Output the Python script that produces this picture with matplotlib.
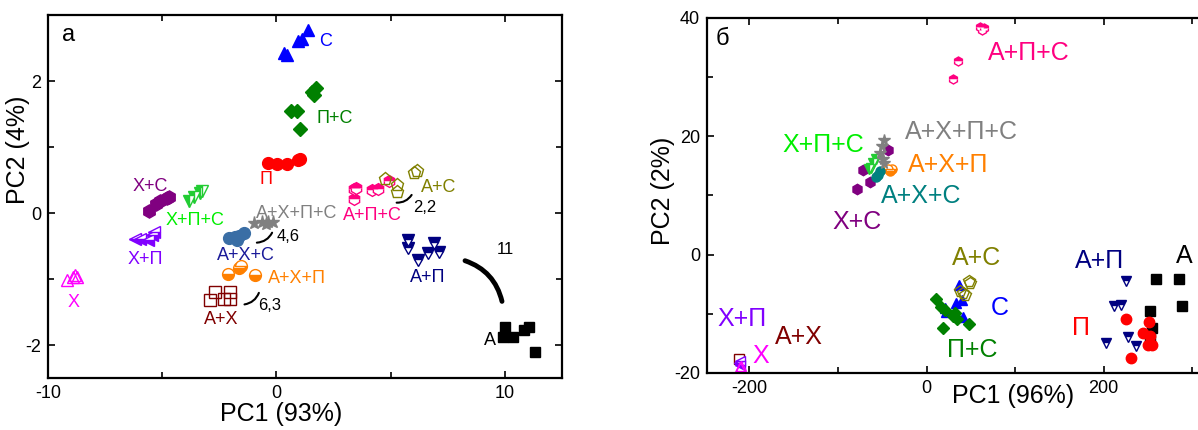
import matplotlib
matplotlib.use("Agg")
import matplotlib.pyplot as plt
from matplotlib.patches import FancyArrowPatch
from matplotlib.ticker import MultipleLocator, FixedLocator

plt.rcParams['font.family'] = ['Liberation Sans', 'DejaVu Sans']
plt.rcParams['axes.unicode_minus'] = False

# --- panel a: PC1 / PC2 scores ---
a_C_x = [0.35, 0.45, 0.95, 1.10, 1.40]
a_C_y = [2.42, 2.39, 2.60, 2.63, 2.77]
a_PC_x = [1.72, 1.55, 1.64, 0.88, 0.63, 1.05]
a_PC_y = [1.90, 1.84, 1.79, 1.55, 1.55, 1.28]
a_P_x = [-0.39, 0.03, 0.46, 0.96, 1.05]
a_P_y = [0.76, 0.75, 0.75, 0.80, 0.82]
a_XC_x = [-5.57, -5.29, -5.12, -4.78, -4.70]
a_XC_y = [0.03, 0.13, 0.18, 0.23, 0.25]
a_XPC_x = [-3.85, -3.60, -3.35, -3.26]
a_XPC_y = [0.18, 0.25, 0.30, 0.33]
a_XP_x = [-6.20, -5.96, -5.62, -5.46, -5.37]
a_XP_y = [-0.40, -0.40, -0.41, -0.33, -0.29]
a_X_x = [-9.17, -8.92, -8.83, -8.75]
a_X_y = [-1.02, -0.97, -0.94, -0.97]
a_AXPC_x = [-0.98, -0.64, -0.39, -0.14, -0.47]
a_AXPC_y = [-0.15, -0.14, -0.13, -0.13, -0.16]
a_AXC_x = [-2.08, -1.82, -1.66, -1.40, -1.74]
a_AXC_y = [-0.38, -0.37, -0.35, -0.31, -0.41]
a_AXP_x = [-2.13, -1.66, -1.57, -0.95]
a_AXP_y = [-0.93, -0.84, -0.81, -0.94]
a_AX_x = [-2.92, -2.67, -2.30, -2.04, -2.03]
a_AX_y = [-1.32, -1.19, -1.31, -1.19, -1.30]
a_APC_x = [3.41, 3.50, 3.41, 4.17, 4.43, 4.93]
a_APC_y = [0.37, 0.38, 0.21, 0.35, 0.36, 0.48]
a_AC_x = [4.76, 5.27, 5.27, 6.03, 6.15]
a_AC_y = [0.51, 0.42, 0.32, 0.61, 0.64]
a_AP_x = [5.74, 5.77, 6.20, 6.62, 6.88, 7.13]
a_AP_y = [-0.41, -0.53, -0.71, -0.61, -0.45, -0.59]
a_A_x = [10.00, 9.92, 10.34, 10.84, 11.05, 11.30]
a_A_y = [-1.73, -1.88, -1.88, -1.78, -1.73, -2.11]

# --- panel b ---
b_APC_x = [60.9, 65.2, 63.0, 35.7, 29.6]
b_APC_y = [38.5, 38.3, 38.0, 32.7, 29.7]
b_AXPC_x = [-47.8, -50.0, -52.0, -48.7, -47.8]
b_AXPC_y = [19.4, 18.3, 17.2, 16.1, 15.5]
b_XPC_x = [-63.0, -56.5, -60.0, -65.0]
b_XPC_y = [14.6, 16.1, 15.5, 14.4]
b_AXC_x = [-56.5, -54.3, -52.2]
b_AXC_y = [13.2, 13.5, 14.1]
b_AXP_x = [-41.3, -39.1, -43.5]
b_AXP_y = [14.1, 14.4, 14.5]
b_XC_x = [-78.3, -64.3, -71.3, -43.5]
b_XC_y = [11.1, 12.2, 14.3, 17.7]
b_PC_x = [10.2, 16.6, 20.3, 31.6, 34.3, 47.8, 18.4, 29.7]
b_PC_y = [-7.5, -8.8, -9.3, -9.9, -10.9, -11.7, -12.4, -10.4]
b_C_x = [33.5, 40.3, 22.2, 41.1, 20.3, 36.2]
b_C_y = [-8.1, -7.7, -9.7, -10.5, -9.0, -5.1]
b_AC_x = [47.8, 49.3, 37.3, 41.1, 42.9]
b_AC_y = [-4.5, -4.8, -6.2, -6.5, -6.8]
b_P_x = [225.6, 251.3, 244.5, 252.0, 250.0, 254.0, 231.3]
b_P_y = [-10.9, -11.4, -13.2, -13.8, -15.2, -15.2, -17.5]
b_AP_x = [224.9, 211.6, 220.0, 203.0, 227.5, 236.2]
b_AP_y = [-4.5, -8.6, -8.5, -15.0, -14.0, -15.5]
b_A_x = [258.8, 285.0, 287.8, 252.8, 255.0, 252.8]
b_A_y = [-4.2, -4.1, -8.6, -9.5, -12.4, -14.0]
b_XP_x = [-212.0, -210.0, -211.0]
b_XP_y = [-18.3, -18.6, -18.0]
b_AX_x = [-212.0]
b_AX_y = [-17.6]
b_X_x = [-211.0, -209.0]
b_X_y = [-19.0, -18.8]

# group label texts and positions
a_labels = [("С", 2.15, 2.60, "#0000ff"), ("П+С", 2.53, 1.43, "#008000"),
            ("П", -0.47, 0.51, "#ff0000"), ("Х+С", -5.54, 0.40, "#800080"),
            ("Х+П+С", -3.55, -0.11, "#00ee00"), ("Х+П", -5.74, -0.71, "#8000ff"),
            ("Х", -8.89, -1.35, "#ff00ff"), ("А+Х+П+С", 0.88, 0.0, "#808080"),
            ("А+Х+С", -1.35, -0.64, "#1a1a99"), ("А+Х+П", 0.88, -0.99, "#ff8000"),
            ("А+Х", -2.42, -1.62, "#800000"), ("А+П+С", 4.22, -0.04, "#ff0080"),
            ("А+С", 7.09, 0.38, "#808000"), ("А+П", 6.62, -0.97, "#000080"),
            ("А", 9.36, -1.93, "black")]
a_numbers = [("2,2", 6.50, 0.08), ("4,6", 0.51, -0.36), ("6,3", -0.30, -1.40), ("11", 10.03, -0.55)]
b_labels = [("А+П+С", 115, 34.1, "#ff0080"), ("А+Х+П+С", 39, 20.8, "#808080"),
            ("Х+П+С", -116.5, 18.6, "#00ee00"), ("А+Х+П", 23.9, 15.2, "#ff8000"),
            ("А+Х+С", -6.5, 9.9, "#008080"), ("Х+С", -78, 5.6, "#800080"),
            ("А+С", 56.5, -0.6, "#808000"), ("С", 82.6, -9.0, "#0000ff"),
            ("П+С", 52, -16.1, "#008000"), ("А+П", 195.7, -1.1, "#000080"),
            ("А", 291, -0.3, "black"), ("П", 174, -12.4, "#ff0000"),
            ("Х+П", -207.8, -10.9, "#8000ff"), ("А+Х", -144, -13.9, "#800000"),
            ("Х", -187, -17.2, "#ff00ff")]

# marker styles: marker, colour, fillstyle
styles = {
    "C": ("^", "#0000ff", "full"), "PC": ("D", "#008000", "full"),
    "P": ("o", "#ff0000", "full"), "XC": ("h", "#800080", "full"),
    "XPC": ("v", "#22cc33", "left"), "XP": ("<", "#8000ff", "bottom"),
    "X": ("^", "#ff00ff", "none"), "AXPC": ("*", "#808080", "full"),
    "AXC": ("o", "#3a6ea5", "full"), "AXP": ("o", "#ff8000", "bottom"),
    "AX": ("s", "#800000", "none"), "APC": ("h", "#ff0080", "top"),
    "AC": ("p", "#808000", "none"), "AP": ("v", "#000080", "top"),
    "A": ("s", "black", "full"),
}


def scatter_group(ax, key, xs, ys, ms, color=None):
    marker, c, fs = styles[key]
    if color is not None:
        c = color
    ax.plot(xs, ys, linestyle="none", marker=marker, color=c, markersize=ms,
            fillstyle=fs, markerfacecoloralt="white", markeredgewidth=1.0)


def style_axes(ax):
    for sp in ax.spines.values():
        sp.set_linewidth(1.6)
    ax.tick_params(which="both", direction="in", top=True, right=True,
                   labelsize=13, width=1.2, pad=5)
    ax.tick_params(which="major", length=5)
    ax.tick_params(which="minor", length=4)


fig = plt.figure(figsize=(11.98, 4.30), dpi=100)

# ---------- panel a ----------
ax = fig.add_axes([0.0401, 0.1209, 0.429, 0.8442])
ms_a = 8.5
scatter_group(ax, "C", a_C_x, a_C_y, ms_a)
scatter_group(ax, "PC", a_PC_x, a_PC_y, ms_a - 1)
scatter_group(ax, "P", a_P_x, a_P_y, ms_a)
scatter_group(ax, "XC", a_XC_x, a_XC_y, ms_a + 1)
scatter_group(ax, "XPC", a_XPC_x, a_XPC_y, ms_a)
scatter_group(ax, "XP", a_XP_x, a_XP_y, ms_a)
scatter_group(ax, "X", a_X_x, a_X_y, ms_a)
scatter_group(ax, "AXPC", a_AXPC_x, a_AXPC_y, ms_a + 1)
scatter_group(ax, "AXC", a_AXC_x, a_AXC_y, ms_a)
scatter_group(ax, "AXP", a_AXP_x, a_AXP_y, ms_a)
scatter_group(ax, "AX", a_AX_x, a_AX_y, ms_a)
scatter_group(ax, "APC", a_APC_x, a_APC_y, ms_a)
scatter_group(ax, "AC", a_AC_x, a_AC_y, ms_a + 1)
scatter_group(ax, "AP", a_AP_x, a_AP_y, ms_a)
scatter_group(ax, "A", a_A_x, a_A_y, ms_a - 1)

for txt, x, y, c in a_labels:
    ax.text(x, y, txt, color=c, fontsize=13, ha="center", va="center")
for txt, x, y in a_numbers:
    ax.text(x, y, txt, color="black", fontsize=12, ha="center", va="center")

# curved brackets between clusters
arcs = [((5.14, 0.16), (5.98, 0.31), 0.35, 1.5),
        ((-0.98, -0.45), (-0.14, -0.26), 0.35, 1.5),
        ((-1.52, -1.39), (-0.73, -1.17), 0.35, 1.5),
        ((8.14, -0.71), (9.90, -1.38), -0.3, 3.5)]
for pa, pb, rad, lw in arcs:
    ax.add_patch(FancyArrowPatch(pa, pb, arrowstyle="-", connectionstyle=f"arc3,rad={rad}",
                                 color="black", linewidth=lw))

ax.text(-9.1, 2.69, "а", fontsize=17, ha="center", va="center")
ax.set_xlim(-10, 12.5)
ax.set_ylim(-2.5, 3.0)
ax.xaxis.set_major_locator(MultipleLocator(10))
ax.xaxis.set_minor_locator(MultipleLocator(5))
ax.yaxis.set_major_locator(MultipleLocator(2))
ax.yaxis.set_minor_locator(MultipleLocator(1))
style_axes(ax)
ax.set_xlabel("PC1 (93%)", fontsize=18)
ax.xaxis.set_label_coords(0.453, -0.065)
ax.set_ylabel("PC2 (4%)", fontsize=18)
ax.yaxis.set_label_coords(-0.035, 0.628)

# ---------- panel b ----------
bx = fig.add_axes([0.590, 0.1326, 0.511, 0.8256])
ms_b = 6.5
scatter_group(bx, "APC", b_APC_x, b_APC_y, ms_b)
scatter_group(bx, "XC", b_XC_x, b_XC_y, ms_b + 1)
scatter_group(bx, "AXP", b_AXP_x, b_AXP_y, ms_b)
scatter_group(bx, "XPC", b_XPC_x, b_XPC_y, ms_b + 1)
scatter_group(bx, "AXC", b_AXC_x, b_AXC_y, ms_b, color="#008080")
scatter_group(bx, "AXPC", b_AXPC_x, b_AXPC_y, ms_b + 2)
scatter_group(bx, "C", b_C_x, b_C_y, ms_b)
scatter_group(bx, "PC", b_PC_x, b_PC_y, ms_b)
scatter_group(bx, "AC", b_AC_x, b_AC_y, ms_b + 2)
scatter_group(bx, "A", b_A_x, b_A_y, ms_b)
scatter_group(bx, "AP", b_AP_x, b_AP_y, ms_b)
scatter_group(bx, "P", b_P_x, b_P_y, ms_b + 1)
scatter_group(bx, "AX", b_AX_x, b_AX_y, ms_b)
scatter_group(bx, "XP", b_XP_x, b_XP_y, ms_b)
scatter_group(bx, "X", b_X_x, b_X_y, ms_b)

for txt, x, y, c in b_labels:
    bx.text(x, y, txt, color=c, fontsize=18, ha="center", va="center")

bx.text(-230, 36.5, "б", fontsize=17, ha="center", va="center")
bx.set_xlim(-248, 443)
bx.set_ylim(-20, 40)
bx.xaxis.set_major_locator(FixedLocator([-200, 0, 200]))
bx.xaxis.set_minor_locator(FixedLocator([-100, 100, 300]))
bx.yaxis.set_major_locator(MultipleLocator(20))
bx.yaxis.set_minor_locator(MultipleLocator(10))
style_axes(bx)
bx.set_xlabel("PC1 (96%)", fontsize=18)
bx.xaxis.set_label_coords(0.5, -0.03)
bx.set_ylabel("PC2 (2%)", fontsize=18)
bx.yaxis.set_label_coords(-0.052, 0.513)

fig.savefig("out.png", dpi=100)
